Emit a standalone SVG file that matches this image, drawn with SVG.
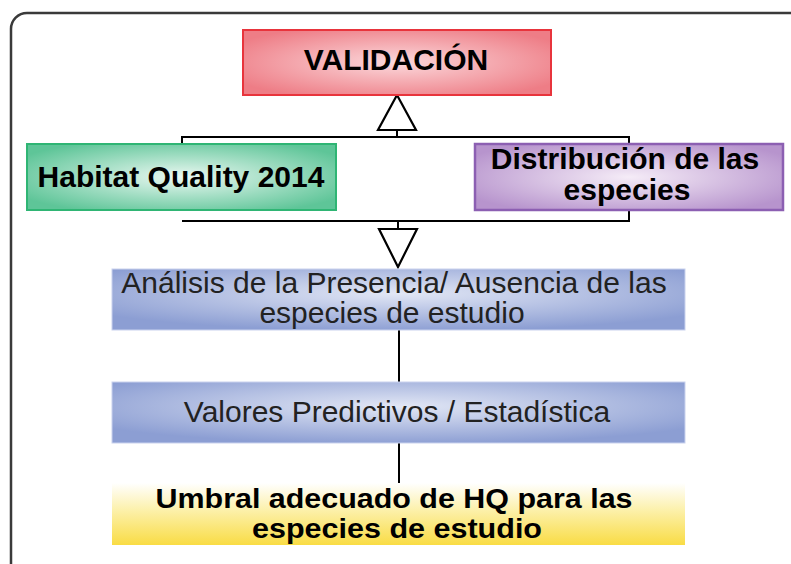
<svg xmlns="http://www.w3.org/2000/svg" width="791" height="564" viewBox="0 0 791 564">
<style>
.b{font-family:"Liberation Sans",Arial,sans-serif;font-weight:bold;font-size:30px;fill:#000;text-anchor:middle}
.bs{font-family:"Liberation Sans",Arial,sans-serif;font-weight:bold;font-size:28px;fill:#000;text-anchor:middle}
.r{font-family:"Liberation Sans",Arial,sans-serif;font-size:30px;fill:#222;text-anchor:middle}
.ln{stroke:#000;stroke-width:2;fill:none}
.tri{stroke:#000;stroke-width:2.2;fill:#fff}
</style>
<defs>
<radialGradient id="gRed" cx="50%" cy="50%" r="60%">
<stop offset="0" stop-color="#fbd9dc"/><stop offset="1" stop-color="#ee7d86"/>
</radialGradient>
<radialGradient id="gGreen" cx="50%" cy="50%" r="60%">
<stop offset="0" stop-color="#ebf8f2"/><stop offset="1" stop-color="#5ec598"/>
</radialGradient>
<radialGradient id="gPurple" cx="50%" cy="50%" r="60%">
<stop offset="0" stop-color="#f5ecf7"/><stop offset="1" stop-color="#b794cd"/>
</radialGradient>
<radialGradient id="gBlue" cx="50%" cy="40%" r="62%">
<stop offset="0" stop-color="#e2e7f5"/><stop offset="1" stop-color="#8c9ed3"/>
</radialGradient>
<linearGradient id="gYellow" x1="0" y1="0" x2="0" y2="1">
<stop offset="0" stop-color="#ffffff"/><stop offset="0.45" stop-color="#fcf0a8"/><stop offset="1" stop-color="#f9dc45"/>
</linearGradient>
</defs>
<rect x="11" y="13" width="800" height="600" rx="16" fill="#fff" stroke="#3a3a3a" stroke-width="2.5"/>
<g id="connectors">
<polyline class="ln" points="182,144 182,137 629,137 629,144"/>
<line class="ln" x1="397" y1="137" x2="397" y2="130"/>
<polygon class="tri" points="397,95 378,130 416,130"/>
<polyline class="ln" points="182,221 629,221 629,210"/>
<line class="ln" x1="398" y1="221" x2="398" y2="229"/>
<polygon class="tri" points="379,229 417,229 398,267"/>
<line class="ln" x1="399" y1="330" x2="399" y2="382"/>
<line class="ln" x1="399" y1="443" x2="399" y2="483"/>
</g>
<g id="validacion">
<rect x="243" y="30" width="308" height="65" fill="url(#gRed)" stroke="#e8343c" stroke-width="2"/>
<text class="b" x="396" y="70">VALIDACIÓN</text>
</g>
<g id="habitat">
<rect x="27" y="144" width="309" height="66" fill="url(#gGreen)" stroke="#2fb574" stroke-width="2"/>
<text class="b" x="181" y="187">Habitat Quality 2014</text>
</g>
<g id="distribucion">
<rect x="475" y="144" width="308" height="66" fill="url(#gPurple)" stroke="#8c5fb2" stroke-width="2.5"/>
<text class="b" x="625" y="169">Distribución de las</text>
<text class="b" x="627" y="200">especies</text>
</g>
<g id="analisis">
<rect x="112" y="269" width="573" height="61" fill="url(#gBlue)" stroke="#c9d2ee" stroke-width="1"/>
<text class="r" x="394" y="293">Análisis de la Presencia/ Ausencia de las</text>
<text class="r" x="392" y="323">especies de estudio</text>
</g>
<g id="valores">
<rect x="112" y="382" width="573" height="61" fill="url(#gBlue)" stroke="#c9d2ee" stroke-width="1"/>
<text class="r" x="397" y="422">Valores Predictivos / Estadística</text>
</g>
<g id="umbral">
<rect x="112" y="483" width="573" height="62" fill="url(#gYellow)"/>
<text class="bs" x="394" y="508" textLength="477" lengthAdjust="spacingAndGlyphs">Umbral adecuado de HQ para las</text>
<text class="bs" x="397" y="538" textLength="290" lengthAdjust="spacingAndGlyphs">especies de estudio</text>
</g>
</svg>
